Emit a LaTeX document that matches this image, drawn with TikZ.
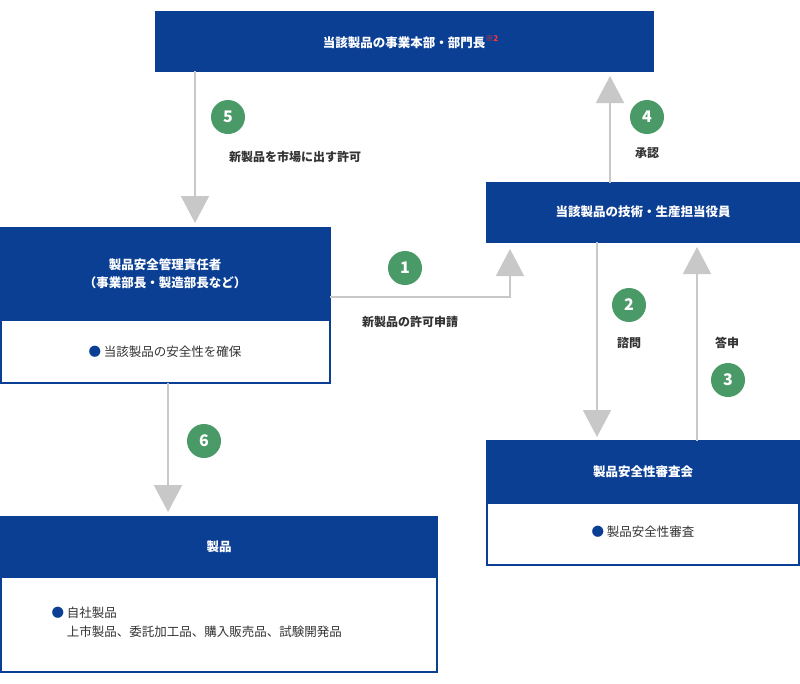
\documentclass[tikz,border=0pt]{standalone}
\usepackage{fontspec}
\setmainfont{Noto Sans CJK JP}
\usetikzlibrary{arrows.meta}
\definecolor{hdr}{HTML}{0B3F94}
\definecolor{arr}{HTML}{C8C8C8}
\definecolor{grn}{HTML}{4A9A68}
\definecolor{txt}{HTML}{333333}
\begin{document}
\begin{tikzpicture}[x=1pt,y=-1pt,
  hd/.style={fill=hdr,draw=hdr,line width=1.2pt},
  bd/.style={fill=white,draw=hdr,line width=1.2pt},
  ht/.style={text=white,font=\fontsize{12.5}{18}\selectfont\bfseries,align=center},
  bt/.style={text=txt,font=\fontsize{12.5}{19}\selectfont,align=left},
  num/.style={circle,fill=grn,text=white,minimum size=34pt,inner sep=0pt,font=\fontsize{16}{16}\selectfont\bfseries},
  lab/.style={text=txt,font=\fontsize{12}{14}\selectfont\bfseries},
  ar/.style={draw=arr,line width=2pt,-{Triangle[width=28pt,length=27pt]}}]
\useasboundingbox (0,0) rectangle (800,683);
% top box
\draw[hd] (156,12) rectangle (653,71);
\node[ht] (top) at (404,42) {当該製品の事業本部・部門長\rlap{\raisebox{6pt}{\textcolor{red!80!white}{\fontsize{8}{8}\selectfont ※2}}}};
\coordinate (topb) at (195,71);
\coordinate (topc) at (610,71);
% left box
\draw[bd] (1,228) rectangle (330,383);
\draw[hd] (1,228) rectangle (330,320);
\node[ht] (left) at (165,274) {製品安全管理責任者\\（事業部長・製造部長など）};
\node[bt] (leftb) at (165,352) {\textcolor{hdr}{●} 当該製品の安全性を確保};
% right box 1
\draw[hd] (487,183) rectangle (799,242);
\node[ht] (r1) at (643,212) {当該製品の技術・生産担当役員};
% right box 2
\draw[bd] (487,441) rectangle (799,565);
\draw[hd] (487,441) rectangle (799,503);
\node[ht] (r2) at (643,472) {製品安全性審査会};
\node[bt] (r2b) at (643,532) {\textcolor{hdr}{●} 製品安全性審査};
% bottom box
\draw[bd] (1,517) rectangle (437,672);
\draw[hd] (1,517) rectangle (437,577);
\node[ht] (bot) at (219,547) {製品};
\node[bt,anchor=west] (botb) at (48,622) {\textcolor{hdr}{●} 自社製品\\\phantom{●} 上市製品、委託加工品、購入販売品、試験開発品};
% arrows
\draw[ar] (topb) -- (195,223);
\draw[ar] (330,297) -- (510,297) -- (510,249);
\draw[ar] (610,183) -- (610,76);
\draw[ar] (597,242) -- (597,437);
\draw[ar] (697,441) -- (697,247);
\draw[ar] (168,383) -- (168,512);
% numbers and labels
\node[num] (n5) at (228,117) {5};
\node[lab] (l5) at (295,157) {新製品を市場に出す許可};
\node[num] (n1) at (405,268) {1};
\node[lab] (l1) at (410,322) {新製品の許可申請};
\node[num] (n4) at (647,117) {4};
\node[lab] (l4) at (647,153) {承認};
\node[num] (n2) at (629,305) {2};
\node[lab] (l2) at (629,343) {諮問};
\node[lab] (l3) at (727,343) {答申};
\node[num] (n3) at (728,380) {3};
\node[num] (n6) at (204,441) {6};
\end{tikzpicture}
\end{document}
